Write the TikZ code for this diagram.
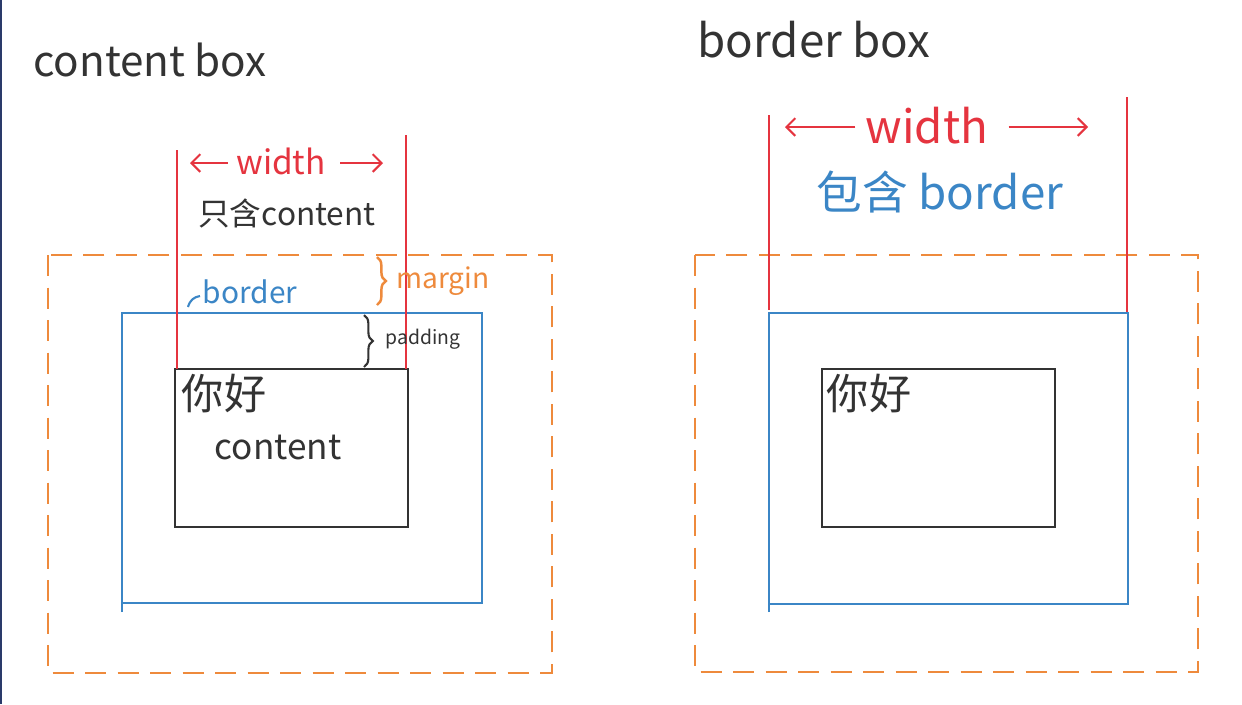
\documentclass[tikz,border=0pt]{standalone}
\usepackage{fontspec}
\setmainfont{Noto Sans CJK SC}
\usetikzlibrary{arrows.meta,decorations.pathreplacing}
\definecolor{morange}{HTML}{EE8A3C}
\definecolor{mblue}{HTML}{3B86C6}
\definecolor{mred}{HTML}{E5343F}
\definecolor{mblack}{HTML}{333333}
\definecolor{mnavy}{HTML}{2A3A6A}
\tikzset{
  marginbox/.style={draw=morange,line width=1.5pt,dash pattern=on 12pt off 6.5pt},
  borderbox/.style={draw=mblue,line width=1.5pt},
  contentbox/.style={draw=mblack,line width=1.3pt},
  redline/.style={draw=mred,line width=1.2pt},
  redarrow/.style={draw=mred,line width=1.2pt,-{Straight Barb[length=5pt,width=10pt]}},
  lbl/.style={inner sep=0pt,anchor=center},
}
\begin{document}
\begin{tikzpicture}[x=0.02cm,y=-0.02cm]
\useasboundingbox (0,0) rectangle (1242,704);
\fill[white] (0,0) rectangle (1242,704);
\draw[mnavy,line width=1.2pt] (1,0) -- (1,704);
% ---------- left: content box ----------
\node[lbl,text=mblack,font=\fontsize{24}{28}\selectfont] (t1) at (150,60) {content box};
\draw[marginbox] (48,255) rectangle (552,673);
\draw[borderbox] (122,612) -- (122,313) -- (482,313) -- (482,603) -- (122,603);
\draw[contentbox] (175,369) rectangle (408,527);
\draw[redline] (177,150) -- (177,369);
\draw[redline] (406,135) -- (406,369);
\node[lbl,text=mred,font=\fontsize{19}{22}\selectfont] (w1) at (281,161) {width};
\coordinate (w1l) at (190,163);
\coordinate (w1r) at (383,163);
\draw[redarrow] (w1.west) ++(-8,2) -- (w1l);
\draw[redarrow] (w1.east) ++(14,2) -- (w1r);
\node[lbl,text=mblack,font=\fontsize{18}{22}\selectfont] (c1) at (287,213) {只含content};
\node[lbl,text=mblue,font=\fontsize{17}{20}\selectfont] (b1) at (250,292) {border};
\coordinate (bc1) at (188,307);
\draw[mblue,line width=1.2pt] (bc1) .. controls (190,300) and (194,297) .. (200,296);
\coordinate (mb1) at (377,257);
\coordinate (mb2) at (377,305);
\draw[morange,line width=1.4pt,decorate,decoration={brace,amplitude=5pt}] (mb1) -- (mb2);
\node[lbl,text=morange,font=\fontsize{16}{20}\selectfont] (m1) at (443,281) {margin};
\coordinate (pb1) at (364,315);
\coordinate (pb2) at (364,367);
\draw[mblack,line width=1.2pt,decorate,decoration={brace,amplitude=5pt}] (pb1) -- (pb2);
\node[lbl,text=mblack,font=\fontsize{11}{14}\selectfont] (p1) at (423,339) {padding};
\node[lbl,text=mblack,font=\fontsize{24}{28}\selectfont] (n1) at (224,393) {你好};
\node[lbl,text=mblack,font=\fontsize{20}{24}\selectfont] (c2) at (278,447) {content};
% ---------- right: border box ----------
\node[lbl,text=mblack,font=\fontsize{26}{30}\selectfont] (t2) at (814,40) {border box};
\draw[marginbox] (695,255) rectangle (1198,672);
\draw[borderbox] (769,612) -- (769,313) -- (1128,313) -- (1128,604) -- (769,604);
\draw[contentbox] (822,369) rectangle (1055,527);
\draw[redline] (769,115) -- (769,310);
\draw[redline] (1127,97) -- (1127,312);
\node[lbl,text=mred,font=\fontsize{26}{30}\selectfont] (w2) at (927,126) {width};
\coordinate (w2l) at (785,127);
\coordinate (w2r) at (1088,127);
\draw[redarrow] (w2.west) ++(-10,1) -- (w2l);
\draw[redarrow] (w2.east) ++(20,1) -- (w2r);
\node[lbl,text=mblue,font=\fontsize{26}{30}\selectfont] (c3) at (940,192) {包含 border};
\node[lbl,text=mblack,font=\fontsize{24}{28}\selectfont] (n2) at (869,393) {你好};
\end{tikzpicture}
\end{document}
